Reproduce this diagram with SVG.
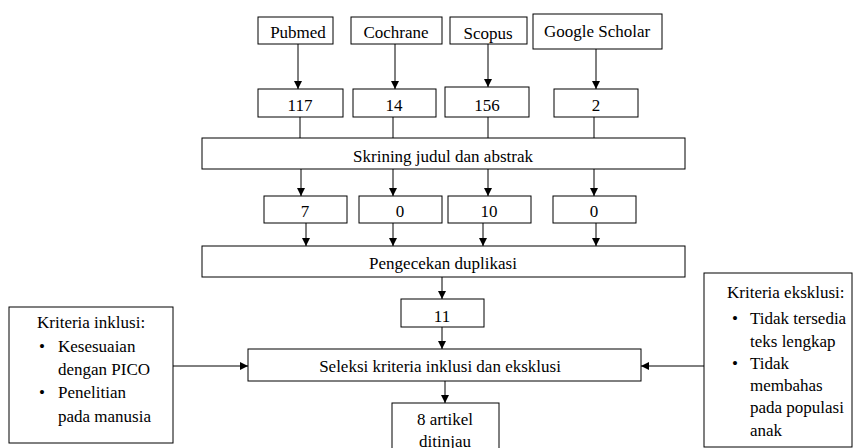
<svg xmlns="http://www.w3.org/2000/svg" width="858" height="448" viewBox="0 0 858 448">
<style>
.box{fill:#fff;stroke:#000;stroke-width:1}
.t{font-family:"Liberation Serif","Times New Roman",serif;font-size:17px;fill:#000}
.c{text-anchor:middle}
.ln{stroke:#000;stroke-width:1;fill:none}
.ar{marker-end:url(#ah)}
</style>
<defs>
<marker id="ah" markerWidth="8" markerHeight="8" refX="8" refY="4" orient="auto" markerUnits="userSpaceOnUse">
<path d="M0,0 L8,4 L0,8 Z" fill="#000"/>
</marker>
</defs>
<rect width="858" height="448" fill="#fff"/>
<g id="connectors">
<line class="ln ar" x1="298" y1="44" x2="298" y2="89"/>
<line class="ln ar" x1="395" y1="44" x2="395" y2="89"/>
<line class="ln ar" x1="488" y1="44" x2="488" y2="87"/>
<line class="ln ar" x1="596" y1="49" x2="596" y2="89"/>
<line class="ln" x1="300" y1="117" x2="300" y2="138"/>
<line class="ln" x1="393" y1="117" x2="393" y2="138"/>
<line class="ln" x1="488" y1="117" x2="488" y2="138"/>
<line class="ln" x1="594" y1="117" x2="594" y2="138"/>
<line class="ln ar" x1="301" y1="169" x2="301" y2="196"/>
<line class="ln ar" x1="393" y1="169" x2="393" y2="196"/>
<line class="ln ar" x1="488" y1="169" x2="488" y2="196"/>
<line class="ln ar" x1="594" y1="169" x2="594" y2="196"/>
<line class="ln ar" x1="306" y1="223" x2="306" y2="246"/>
<line class="ln ar" x1="393" y1="223" x2="393" y2="246"/>
<line class="ln ar" x1="483" y1="223" x2="483" y2="246"/>
<line class="ln ar" x1="596" y1="223" x2="596" y2="246"/>
<line class="ln ar" x1="442" y1="277" x2="442" y2="299"/>
<line class="ln ar" x1="442" y1="327" x2="442" y2="349"/>
<line class="ln ar" x1="445" y1="381" x2="445" y2="403"/>
<line class="ln ar" x1="173" y1="366" x2="248" y2="366"/>
<line class="ln ar" x1="704" y1="366" x2="641" y2="366"/>
</g>
<g id="pubmed"><rect class="box" x="258" y="17" width="75" height="27"/><text class="t c" x="298" y="38">Pubmed</text></g>
<g id="cochrane"><rect class="box" x="351" y="17" width="91" height="27"/><text class="t c" x="396" y="38">Cochrane</text></g>
<g id="scopus"><rect class="box" x="450" y="17" width="77" height="27"/><text class="t c" x="488" y="39">Scopus</text></g>
<g id="google"><rect class="box" x="533" y="14" width="129" height="35"/><text class="t c" x="597" y="37">Google Scholar</text></g>
<g id="n117"><rect class="box" x="258" y="89" width="85" height="28"/><text class="t c" x="300" y="111">117</text></g>
<g id="n14"><rect class="box" x="353" y="89" width="83" height="28"/><text class="t c" x="394" y="111">14</text></g>
<g id="n156"><rect class="box" x="445" y="87" width="84" height="30"/><text class="t c" x="487" y="111">156</text></g>
<g id="n2"><rect class="box" x="554" y="89" width="84" height="28"/><text class="t c" x="596" y="111">2</text></g>
<g id="skrining"><rect class="box" x="202" y="138" width="483" height="31"/><text class="t c" x="443" y="162">Skrining judul dan abstrak</text></g>
<g id="n7"><rect class="box" x="264" y="196" width="83" height="27"/><text class="t c" x="305" y="217">7</text></g>
<g id="n0a"><rect class="box" x="359" y="196" width="83" height="27"/><text class="t c" x="400" y="217">0</text></g>
<g id="n10"><rect class="box" x="448" y="196" width="83" height="27"/><text class="t c" x="489" y="217">10</text></g>
<g id="n0b"><rect class="box" x="553" y="196" width="83" height="27"/><text class="t c" x="594" y="217">0</text></g>
<g id="pengecekan"><rect class="box" x="202" y="246" width="483" height="31"/><text class="t c" x="443" y="269">Pengecekan duplikasi</text></g>
<g id="n11"><rect class="box" x="401" y="299" width="83" height="28"/><text class="t c" x="442" y="322">11</text></g>
<g id="seleksi"><rect class="box" x="248" y="349" width="393" height="32"/><text class="t c" x="440" y="372">Seleksi kriteria inklusi dan eksklusi</text></g>
<g id="artikel"><rect class="box" x="392" y="403" width="107" height="50"/><text class="t c" x="445" y="425">8 artikel</text><text class="t c" x="445" y="447">ditinjau</text></g>
<g id="inklusi"><rect class="box" x="9" y="307" width="164" height="136"/>
<text class="t" x="37" y="328">Kriteria inklusi:</text>
<text class="t" x="39" y="352">•</text><text class="t" x="58" y="352">Kesesuaian</text>
<text class="t" x="58" y="375">dengan PICO</text>
<text class="t" x="39" y="398">•</text><text class="t" x="58" y="398">Penelitian</text>
<text class="t" x="58" y="422">pada manusia</text>
</g>
<g id="eksklusi"><rect class="box" x="704" y="273" width="148" height="174"/>
<text class="t" x="727" y="298">Kriteria eksklusi:</text>
<text class="t" x="732" y="324">•</text><text class="t" x="750" y="324">Tidak tersedia</text>
<text class="t" x="750" y="347">teks lengkap</text>
<text class="t" x="732" y="369">•</text><text class="t" x="750" y="369">Tidak</text>
<text class="t" x="750" y="391">membahas</text>
<text class="t" x="750" y="413">pada populasi</text>
<text class="t" x="750" y="436">anak</text>
</g>
</svg>
